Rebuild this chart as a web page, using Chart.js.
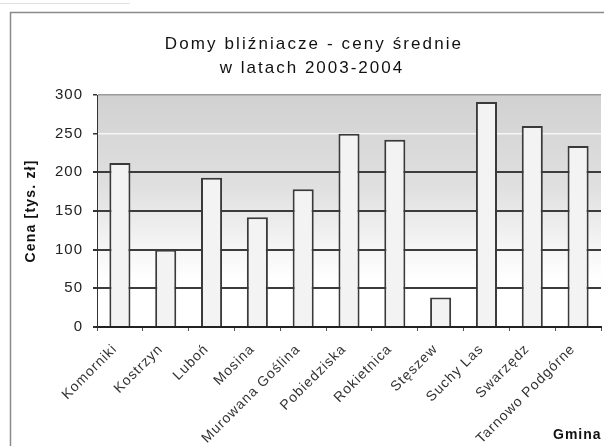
<!DOCTYPE html>
<html>
<head>
<meta charset="utf-8">
<script src="https://cdn.jsdelivr.net/npm/chart.js@4"></script>
<style>
  html, body { margin: 0; padding: 0; background: #fff; }
  #wrap { width: 604px; height: 446px; position: relative; }
</style>
</head>
<body>
<div id="wrap"><canvas id="c" width="604" height="446"></canvas></div>
<script>
// Gminy (communes) and average semi-detached house prices, thousands of PLN
const gminy = ['Komorniki', 'Kostrzyn', 'Luboń', 'Mosina', 'Murowana Goślina', 'Pobiedziska',
               'Rokietnica', 'Stęszew', 'Suchy Las', 'Swarzędz', 'Tarnowo Podgórne'];
const ceny = [212, 100, 193, 142, 178, 250, 242, 38, 291, 260, 234];
const yTicks = [0, 50, 100, 150, 200, 250, 300];
const titleLines = ['Domy bliźniacze - ceny średnie', 'w latach 2003-2004'];
const yTitle = 'Cena [tys. zł]';
const xTitle = 'Gmina';

const FONT = '"Liberation Sans", Arial, sans-serif';

// Gray-to-white gradient behind the bars plus the frame and captions
const decor = {
  id: 'decor',
  beforeDraw(chart) {
    const { ctx, chartArea: a } = chart;
    ctx.save();
    const g = ctx.createLinearGradient(0, a.top, 0, a.bottom);
    g.addColorStop(0, '#d1d1d1');
    g.addColorStop(0.4, '#e0e0e0');
    g.addColorStop(0.65, '#f5f5f5');
    g.addColorStop(0.8, '#ffffff');
    ctx.fillStyle = g;
    ctx.fillRect(a.left, a.top, a.right - a.left, a.bottom - a.top);
    ctx.restore();
    // slightly spaced lettering for the axis labels
    ctx.letterSpacing = '1px';
  },
  afterDraw(chart) {
    const { ctx } = chart;
    ctx.letterSpacing = '0px';
    ctx.save();
    // outer frame
    ctx.strokeStyle = '#8a8a8a';
    ctx.lineWidth = 1.5;
    ctx.beginPath();
    ctx.moveTo(604, 12.5);
    ctx.lineTo(10.5, 12.5);
    ctx.lineTo(10.5, 446);
    ctx.stroke();
    ctx.strokeStyle = '#e2e2e2';
    ctx.lineWidth = 1;
    ctx.beginPath();
    ctx.moveTo(0, 3.5);
    ctx.lineTo(130, 3.5);
    ctx.stroke();

    // title
    ctx.fillStyle = '#111';
    ctx.textAlign = 'center';
    ctx.textBaseline = 'middle';
    ctx.font = '17px ' + FONT;
    ctx.letterSpacing = '2.1px';
    ctx.fillText(titleLines[0], 314, 44);
    ctx.letterSpacing = '2px';
    ctx.fillText(titleLines[1], 312, 68);

    // y axis title
    ctx.save();
    ctx.translate(31, 211);
    ctx.rotate(-Math.PI / 2);
    ctx.font = 'bold 14px ' + FONT;
    ctx.letterSpacing = '1.2px';
    ctx.fillText(yTitle, 0, 0);
    ctx.restore();

    // x axis title
    ctx.font = 'bold 14px ' + FONT;
    ctx.letterSpacing = '1px';
    ctx.textAlign = 'left';
    ctx.fillText(xTitle, 553, 435);
    ctx.letterSpacing = '0px';
    ctx.restore();
  }
};

new Chart(document.getElementById('c'), {
  type: 'bar',
  data: {
    labels: gminy,
    datasets: [{
      data: ceny,
      backgroundColor: '#f3f3f3',
      borderColor: '#3a3a3a',
      borderWidth: { top: 2, left: 2, right: 2, bottom: 0 },
      borderSkipped: 'bottom',
      barPercentage: 0.46,
      categoryPercentage: 1
    }]
  },
  options: {
    responsive: false,
    animation: false,
    devicePixelRatio: 1,
    layout: { padding: { left: 12, top: 95, right: 3, bottom: 0 } },
    plugins: {
      legend: { display: false },
      title: { display: false },
      tooltip: { enabled: false }
    },
    scales: {
      x: {
        offset: true,
        grid: {
          offset: true,
          drawOnChartArea: false,
          drawTicks: true,
          tickLength: 4,
          color: '#555'
        },
        border: { display: true, color: '#222', width: 2 },
        ticks: {
          minRotation: 45,
          maxRotation: 45,
          autoSkip: false,
          padding: 10,
          labelOffset: -5,
          color: '#333',
          font: { family: FONT, size: 14 }
        },
        afterFit(scale) { scale.height = 119; }
      },
      y: {
        min: 0,
        max: 300,
        afterBuildTicks(scale) { scale.ticks = yTicks.map(v => ({ value: v })); },
        grid: {
          drawTicks: true,
          tickLength: 4,
          color(ctx) {
            const v = ctx.tick && ctx.tick.value;
            if (v === 300) return '#9a9a9a';
            if (v === 250) return '#f6f6f6';
            return '#3c3c3c';
          },
          tickColor: '#333',
          lineWidth(ctx) {
            const v = ctx.tick && ctx.tick.value;
            return (v === 300 || v === 250) ? 1.5 : 2;
          }
        },
        border: { display: true, color: '#333', width: 1 },
        ticks: {
          padding: 10,
          color: '#222',
          font: { family: FONT, size: 15 }
        },
        afterFit(scale) { scale.width = 85; }
      }
    }
  },
  plugins: [decor]
});
</script>
</body>
</html>
